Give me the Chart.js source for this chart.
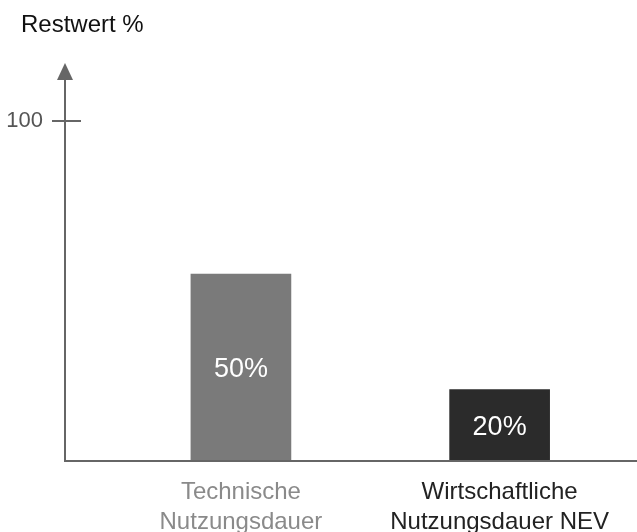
<!DOCTYPE html>
<html>
<head>
<meta charset="utf-8">
<script src="https://cdn.jsdelivr.net/npm/chart.js@4/dist/chart.umd.min.js"></script>
<style>
html,body{margin:0;padding:0;background:#fff;}
#wrap{width:637px;height:532px;position:relative;}
</style>
</head>
<body>
<div id="wrap"><canvas id="c"></canvas></div>
<script>
// ---- data ----
const categories = [["Technische", "Nutzungsdauer"], ["Wirtschaftliche", "Nutzungsdauer NEV"]];
const restwert = [55, 21];               // bar heights as read against the axis
const valueLabels = ["50%", "20%"];      // labels printed in the bars
const barColors = ["#7a7a7a", "#2b2b2b"];
const categoryColors = ["#8a8a8a", "#222222"];
const yTickValues = [100];
const yTitle = "Restwert %";

const FONT = "'Liberation Sans', Arial, Helvetica, sans-serif";

const points = restwert.map((v, i) => ({ x: i, y: v }));

const decor = {
  id: 'decor',
  afterDatasetsDraw(chart) {
    const ctx = chart.ctx;
    const xs = chart.scales.x, ys = chart.scales.y;
    const a = chart.chartArea;
    const x0 = a.left, y0 = ys.getPixelForValue(0);
    ctx.save();
    // bar value labels
    const meta = chart.getDatasetMeta(0);
    ctx.fillStyle = '#ffffff';
    ctx.font = '27px ' + FONT;
    ctx.textAlign = 'center';
    ctx.textBaseline = 'middle';
    meta.data.forEach((el, i) => {
      ctx.fillText(valueLabels[i], el.x, (el.y + el.base) / 2 + 2);
    });
    // axes
    ctx.strokeStyle = '#666666';
    ctx.fillStyle = '#666666';
    ctx.lineWidth = 2;
    ctx.beginPath();
    ctx.moveTo(x0 - 1, y0);
    ctx.lineTo(a.right, y0);
    ctx.stroke();
    ctx.beginPath();
    ctx.moveTo(x0, y0 + 1);
    ctx.lineTo(x0, a.top + 16);
    ctx.stroke();
    // arrow head
    ctx.beginPath();
    ctx.moveTo(x0, a.top);
    ctx.lineTo(x0 - 8, a.top + 17);
    ctx.lineTo(x0 + 8, a.top + 17);
    ctx.closePath();
    ctx.fill();
    // tick cross marks
    yTickValues.forEach(v => {
      const y = ys.getPixelForValue(v);
      ctx.beginPath();
      ctx.moveTo(x0 - 13, y);
      ctx.lineTo(x0 + 16, y);
      ctx.stroke();
    });
    // axis title
    ctx.fillStyle = '#111111';
    ctx.font = '24px ' + FONT;
    ctx.textAlign = 'left';
    ctx.textBaseline = 'alphabetic';
    ctx.fillText(yTitle, 21, 32);
    ctx.restore();
  }
};

new Chart(document.getElementById('c'), {
  type: 'bar',
  data: {
    datasets: [{
      data: points,
      backgroundColor: barColors,
      borderWidth: 0,
      barThickness: 100
    }]
  },
  options: {
    responsive: true,
    maintainAspectRatio: false,
    animation: false,
    layout: { padding: { top: 63, left: 0, right: 0, bottom: 0 } },
    plugins: { legend: { display: false }, tooltip: { enabled: false }, title: { display: false } },
    scales: {
      x: {
        type: 'linear',
        offset: false,
        min: -0.68,
        max: 1.531,
        grid: { display: false, offset: false },
        border: { display: false },
        afterBuildTicks: s => { s.ticks = categories.map((c, i) => ({ value: i })); },
        afterFit: s => { s.height = 71; },
        ticks: {
          autoSkip: false,
          maxRotation: 0,
          padding: 8,
          font: { family: FONT, size: 24, lineHeight: 1.25 },
          color: c => categoryColors[c.index],
          callback: v => categories[v]
        }
      },
      y: {
        min: 0,
        max: 117.06,
        grid: { display: false },
        border: { display: false },
        afterBuildTicks: s => { s.ticks = yTickValues.map(v => ({ value: v })); },
        afterFit: s => { s.width = 65; },
        ticks: {
          padding: 14,
          font: { family: FONT, size: 22 },
          color: '#555555',
          callback: v => String(v)
        }
      }
    }
  },
  plugins: [decor]
});
</script>
</body>
</html>
